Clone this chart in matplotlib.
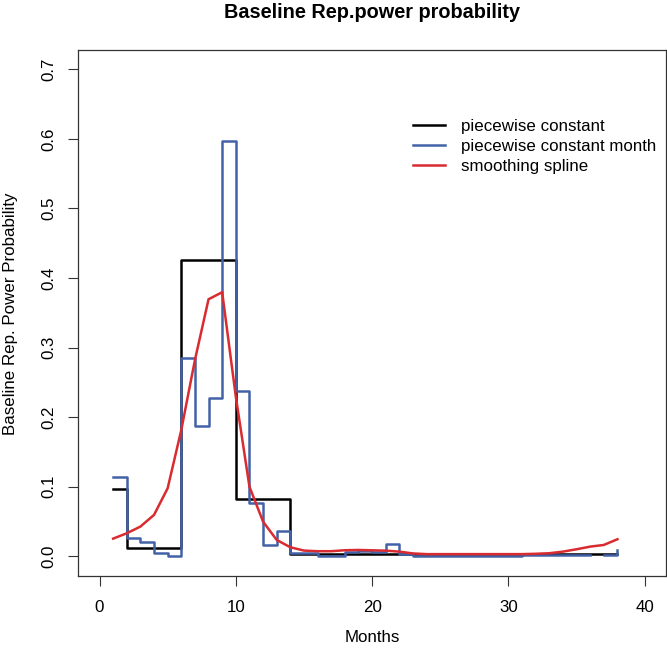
import numpy as np
import matplotlib
matplotlib.use("Agg")
import matplotlib.pyplot as plt

plt.rcParams['font.family'] = ['Liberation Sans', 'DejaVu Sans']

months = list(range(1, 39))

# piecewise constant (black)
pc_values = [0.097] + [0.0115] * 4 + [0.4255] * 4 + [0.0824] * 4 + [0.0035] * 25

# piecewise constant month (blue)
pcm_values = [0.1135, 0.0263, 0.021, 0.0052, 0.0, 0.2855, 0.1878, 0.2271, 0.597,
              0.238, 0.077, 0.0158, 0.0368, 0.0045, 0.004, 0.0, 0.0, 0.006, 0.007,
              0.006, 0.0177, 0.003, 0.0, 0.0, 0.0, 0.0, 0.0, 0.0, 0.0, 0.0,
              0.002, 0.002, 0.002, 0.002, 0.002, np.nan, 0.002, 0.009]

# smoothing spline (red)
spline_values = [0.0253, 0.033, 0.0426, 0.0594, 0.0977, 0.1815, 0.282, 0.3694, 0.3795,
                 0.2294, 0.100, 0.0497, 0.0234, 0.0129, 0.0081, 0.0072, 0.0072, 0.0086,
                 0.009, 0.0085, 0.008, 0.0066, 0.004, 0.003, 0.003, 0.003, 0.003, 0.003,
                 0.003, 0.003, 0.003, 0.0035, 0.0043, 0.0066, 0.010, 0.0138, 0.0162, 0.0244]

series_labels = ["piecewise constant", "piecewise constant month", "smoothing spline"]
title = "Baseline Rep.power probability"
xlabel = "Months"
ylabel = "Baseline Rep. Power Probability"
xticks = [0, 10, 20, 30, 40]
yticks = [0.0, 0.1, 0.2, 0.3, 0.4, 0.5, 0.6, 0.7]

W, H = 667, 654
fig = plt.figure(figsize=(W / 100, H / 100), dpi=100)
left, right, top, bottom = 77.7, 666.5, 49.8, 575.7
ax = fig.add_axes([left / W, 1 - bottom / H, (right - left) / W, (bottom - top) / H])

lw = 1.8
ax.plot(months, pc_values, drawstyle='steps-post', color='black', lw=lw, label=series_labels[0])
ax.plot(months, pcm_values, drawstyle='steps-post', color='#4262A8', lw=lw, label=series_labels[1])
ax.plot(months, spline_values, color='#D92B30', lw=lw, label=series_labels[2])

ax.set_xlim(-1.6, 41.6)
ax.set_ylim(-0.028, 0.728)
ax.set_xticks(xticks)
ax.set_yticks(yticks)
ax.set_xticklabels([str(t) for t in xticks])
ax.set_yticklabels([f"{t:.1f}" for t in yticks], rotation=90, va='center')

fs = 12.2
ax.tick_params(axis='both', direction='out', length=7.2, width=0.8, color='#333333',
               labelsize=fs, labelcolor='black')
ax.tick_params(axis='x', pad=10.2)
ax.tick_params(axis='y', pad=8)
for s in ax.spines.values():
    s.set_linewidth(0.9)
    s.set_color('#333333')

fig.text((left + right) / 2 / W, 1 - 12.5 / H, title, ha='center', va='center',
         fontsize=14.3, fontweight='bold')
fig.text((left + right) / 2 / W, 1 - 638 / H, xlabel, ha='center', va='center', fontsize=fs)
fig.text(10.5 / W, 1 - ((top + bottom) / 2 + 1) / H, ylabel, ha='center', va='center',
         rotation=90, fontsize=fs)

leg = ax.legend(loc='upper left', bbox_to_anchor=((413 - left) / (right - left), (bottom - 118.5) / (bottom - top)),
                frameon=False, fontsize=fs, handlelength=1.9, handletextpad=0.95,
                labelspacing=0.3, borderpad=0, borderaxespad=0)

fig.savefig("out.png", dpi=100)
